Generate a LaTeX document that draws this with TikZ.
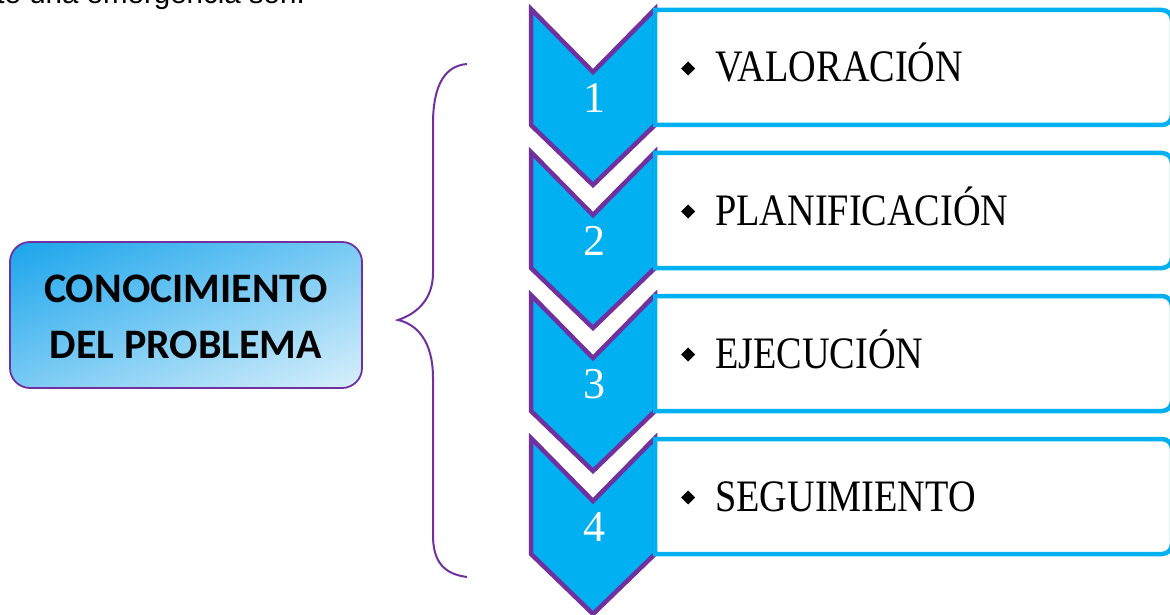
\documentclass[tikz,border=0pt]{standalone}
\usepackage{fontspec}
\setmainfont{Liberation Serif}
\newfontfamily\carl{Carlito}
\newfontfamily\lsans{Liberation Sans}
\definecolor{cy}{HTML}{00B0F0}
\definecolor{pu}{HTML}{7030A0}
\definecolor{gdark}{HTML}{1EA6EC}
\definecolor{glight}{HTML}{D4EEFB}
\tikzset{
  chev/.style={draw=pu, fill=cy, line width=4.5pt, line join=miter},
  itembox/.style={draw=cy, fill=white, line width=4.5pt},
  bullet/.style={fill=black},
  numtext/.style={text=white, inner sep=0pt, font=\fontsize{44}{50}\selectfont},
  labtext/.style={inner sep=0pt, anchor=base west},
  leftbox/.style={draw=pu, line width=1.8pt, rounded corners=20pt},
  ktext/.style={align=center, inner sep=0pt, font=\carl\bfseries\fontsize{42}{56}\selectfont},
  brace/.style={draw=pu, line width=2pt},
}
\begin{document}
\begin{tikzpicture}[x=1pt, y=-1pt]
\useasboundingbox (0,0) rectangle (1170,615);
\clip (0,0) rectangle (1170,615);
% top text (cut off)
\node[anchor=base east, inner sep=0pt, font=\lsans\fontsize{29.5}{35}\selectfont] (intro) at (305,4) {te una emergencia son:};
% left box
\coordinate (kbc) at (186,315);
\draw[leftbox, path picture={
   \begin{scope}[transform canvas={rotate around={-67.5:(kbc)}}]
   \shade[left color=gdark, right color=glight]
     ([xshift=-128pt, yshift=-260pt]kbc) rectangle ([xshift=128pt, yshift=260pt]kbc);
   \end{scope}
  }] (10,242) rectangle (362,388);
\node[ktext] (kb) at (186,317) {CONOCIMIENTO\\DEL PROBLEMA};
% brace
\draw[brace] (467,64) .. controls (442,66) and (433,90) .. (433,124) -- (433,273)
  .. controls (433,300) and (416,314) .. (398,320)
  .. controls (416,324) and (433,340) .. (433,378) -- (433,535)
  .. controls (433,562) and (444,574) .. (467,577);
% chevrons and boxes
\foreach \k/\lab in {1/VALORACIÓN, 2/PLANIFICACIÓN, 3/EJECUCIÓN, 4/SEGUIMIENTO} {
  \pgfmathsetmacro\tp{9+143*(\k-1)}
  \draw[chev] (531,\tp) -- (593,\tp+63) -- (655,\tp) -- (655,\tp+116) -- (593,\tp+176) -- (531,\tp+116) -- cycle;
  \draw[itembox] (655,\tp+1) -- (1162,\tp+1) arc[start angle=-90, end angle=0, radius=10]
     -- (1172,\tp+106) arc[start angle=0, end angle=90, radius=10] -- (655,\tp+116) -- cycle;
  \node[numtext] (num\k) at (594,\tp+89) {\k};
  \fill[bullet] (688,\tp+52.5) -- (695,\tp+59.5) -- (688,\tp+66.5) -- (681,\tp+59.5) -- cycle;
  \node[labtext] (lab\k) at (715,\tp+73) {\scalebox{0.85}[1]{\fontsize{45}{54}\selectfont \lab}};
}
\end{tikzpicture}
\end{document}
